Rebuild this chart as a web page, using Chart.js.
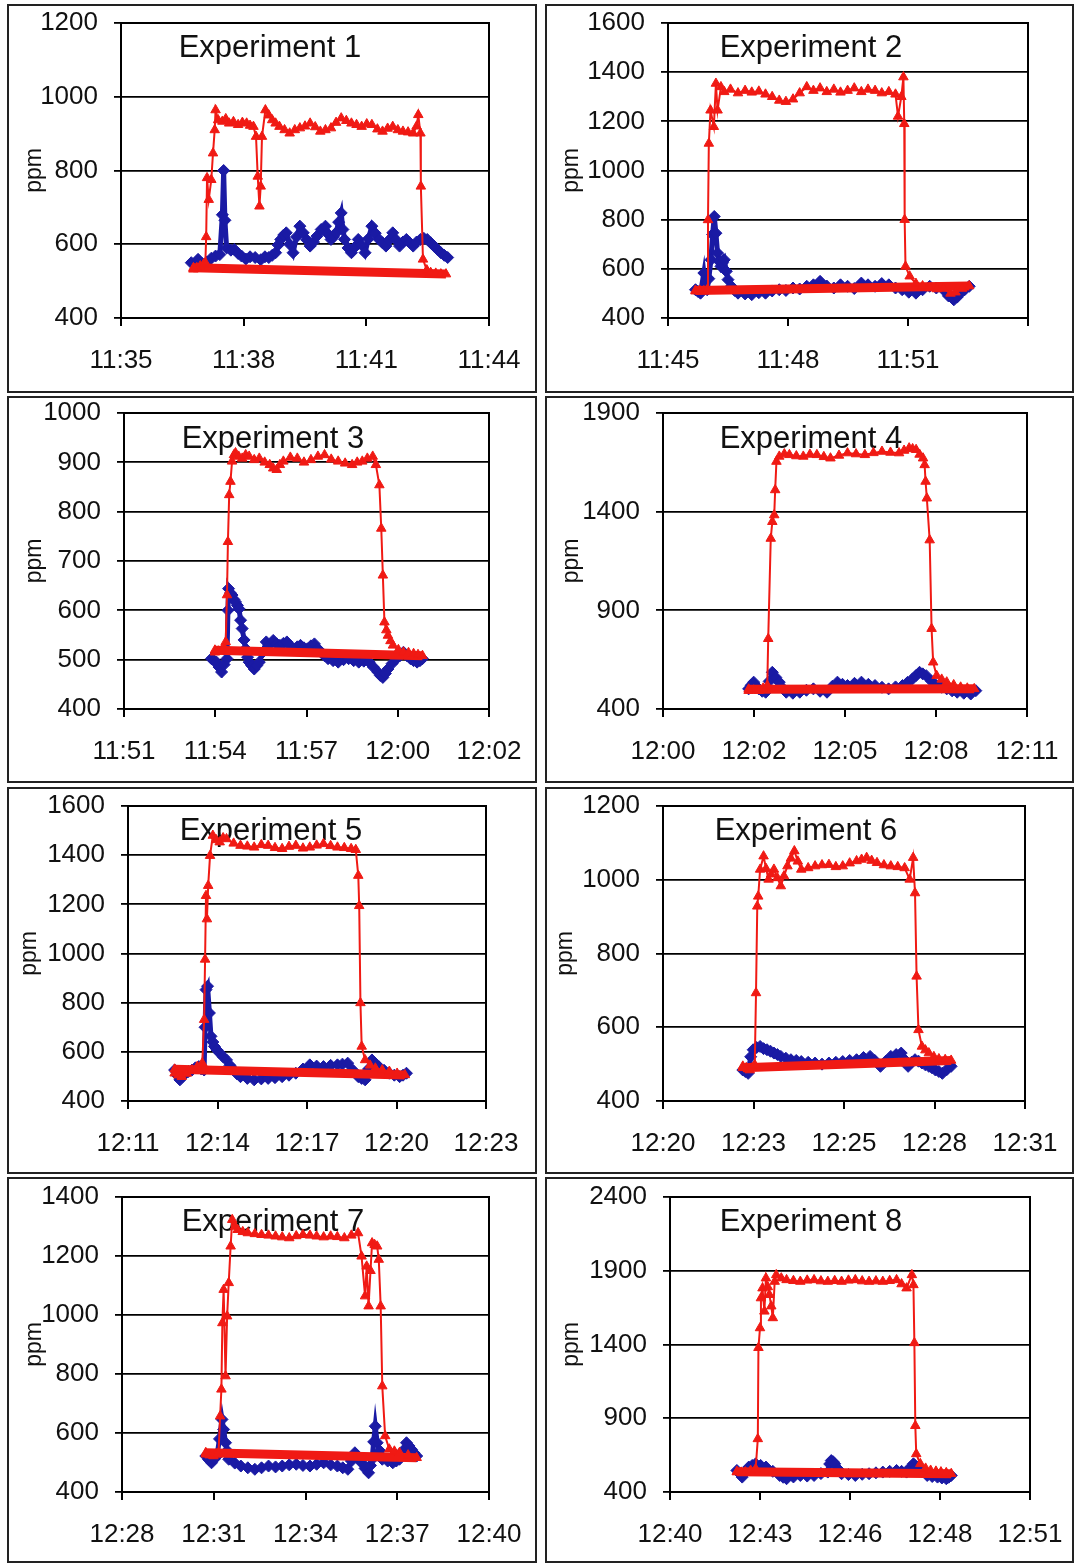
<!DOCTYPE html>
<html lang="en">
<head>
<meta charset="UTF-8">
<title>CO2 experiments 1-8</title>
<script src="https://cdn.jsdelivr.net/npm/chart.js"></script>
<style>
    body { margin: 0; background: #fff; font-family: "Liberation Sans", Arial, sans-serif; }
    #wrap { position: relative; width: 1077px; height: 1563px; overflow: hidden; }
    .panel { position: absolute; box-sizing: border-box; border: 2px solid #222; background: #fff; }
    .panel canvas { display: block; }
</style>
</head>
<body>
<div id="wrap"></div>

<script>
// time = minutes after midnight, value = ppm
const titles = ['Experiment 1', 'Experiment 2', 'Experiment 3', 'Experiment 4',
                'Experiment 5', 'Experiment 6', 'Experiment 7', 'Experiment 8'];

const tickLabels = [
    ['11:35', '11:38', '11:41', '11:44'],
    ['11:45', '11:48', '11:51', ''],
    ['11:51', '11:54', '11:57', '12:00', '12:02'],
    ['12:00', '12:02', '12:05', '12:08', '12:11'],
    ['12:11', '12:14', '12:17', '12:20', '12:23'],
    ['12:20', '12:23', '12:25', '12:28', '12:31'],
    ['12:28', '12:31', '12:34', '12:37', '12:40'],
    ['12:40', '12:43', '12:46', '12:48', '12:51']
];
const xStart = [695.52, 705.6, 711.36, 720, 731.52, 740.16, 748.8, 760.32];
const tickStep = 2.88; // 0.002 day
const yMin = [400, 400, 400, 400, 400, 400, 400, 400];
const yMax = [1200, 1600, 1000, 1900, 1600, 1200, 1400, 2400];
const yStep = [200, 200, 100, 500, 200, 200, 200, 500];

const exp1Blue = [[697.17,550],[697.25,545],[697.33,559],[697.42,548],[697.54,552],[697.64,562],[697.74,568],[697.84,572],[697.90,680],[697.93,800],[697.96,665],[698.00,590],[698.10,584],[698.18,586],[698.27,575],[698.35,568],[698.45,560],[698.55,566],[698.67,564],[698.80,558],[698.90,566],[698.99,564],[699.07,570],[699.15,577],[699.21,598],[699.27,613],[699.34,625],[699.40,631],[699.48,600],[699.56,577],[699.64,620],[699.72,649],[699.80,631],[699.88,612],[699.96,595],[700.04,606],[700.12,622],[700.22,640],[700.32,649],[700.38,628],[700.45,613],[700.51,620],[700.57,631],[700.63,660],[700.69,685],[700.73,640],[700.77,613],[700.85,590],[700.93,577],[701.01,592],[701.09,613],[701.17,598],[701.25,577],[701.33,615],[701.41,649],[701.49,630],[701.58,613],[701.66,604],[701.74,595],[701.82,612],[701.90,631],[701.98,612],[702.06,595],[702.14,606],[702.22,613],[702.30,604],[702.38,595],[702.46,606],[702.55,613],[702.63,616],[702.71,613],[702.79,604],[702.87,595],[702.95,586],[703.03,577],[703.11,570],[703.19,564]];
const exp1Red = [[697.22,532],[697.30,536],[697.38,541],[697.46,546],[697.50,550],[697.52,620],[697.54,780],[697.58,721],[697.64,775],[697.68,847],[697.72,910],[697.74,964],[697.80,937],[697.90,933],[697.98,940],[698.06,928],[698.16,932],[698.27,924],[698.37,930],[698.47,928],[698.55,922],[698.63,919],[698.69,892],[698.73,784],[698.77,703],[698.80,757],[698.83,892],[698.91,964],[698.99,950],[699.07,937],[699.15,928],[699.24,919],[699.36,910],[699.48,901],[699.60,910],[699.72,915],[699.84,920],[699.96,928],[700.08,918],[700.20,906],[700.32,910],[700.45,915],[700.57,930],[700.69,942],[700.81,935],[700.93,928],[701.05,924],[701.17,919],[701.29,926],[701.41,924],[701.54,912],[701.66,906],[701.78,914],[701.90,919],[702.02,910],[702.14,906],[702.26,904],[702.38,901],[702.46,920],[702.50,951],[702.55,901],[702.56,757],[702.61,559],[702.70,530],[702.79,523],[702.91,521],[703.03,519],[703.15,519],[697.22,536]];

const exp2Blue = [[706.26,515],[706.32,508],[706.38,501],[706.46,583],[706.50,520],[706.54,515],[706.58,560],[706.63,637],[706.67,740],[706.71,813],[706.75,745],[706.79,664],[706.83,630],[706.87,610],[706.91,625],[706.95,637],[707.00,590],[707.04,556],[707.12,529],[707.20,512],[707.28,501],[707.45,498],[707.61,495],[707.78,503],[707.94,501],[708.10,510],[708.27,515],[708.43,512],[708.60,522],[708.76,518],[708.93,529],[709.09,535],[709.25,549],[709.41,530],[709.58,522],[709.74,535],[709.91,529],[710.07,520],[710.24,542],[710.40,535],[710.57,529],[710.73,540],[710.90,535],[711.06,522],[711.22,515],[711.38,505],[711.55,501],[711.71,515],[711.88,529],[712.04,522],[712.21,515],[712.33,490],[712.46,474],[712.54,485],[712.62,501],[712.72,515],[712.83,529]];
const exp2Red = [[706.26,509],[706.36,512],[706.46,510],[706.54,515],[706.56,799],[706.58,1110],[706.62,1245],[706.70,1178],[706.75,1354],[706.79,1245],[706.87,1340],[706.95,1320],[707.10,1330],[707.28,1315],[707.45,1325],[707.61,1318],[707.78,1322],[707.94,1310],[708.10,1300],[708.27,1285],[708.43,1280],[708.60,1290],[708.76,1315],[708.93,1340],[709.09,1325],[709.25,1335],[709.41,1320],[709.58,1330],[709.74,1318],[709.91,1325],[710.07,1335],[710.24,1320],[710.40,1330],[710.57,1325],[710.73,1315],[710.90,1320],[711.06,1310],[711.12,1220],[711.20,1300],[711.25,1380],[711.27,1190],[711.28,800],[711.30,610],[711.40,570],[711.55,540],[711.71,530],[711.88,522],[712.05,518],[712.21,520],[712.38,500],[712.50,505],[712.66,520],[712.83,530],[706.26,512]];

const exp3Blue = [[714.12,502],[714.20,498],[714.28,495],[714.36,485],[714.44,475],[714.52,490],[714.61,502],[714.64,600],[714.66,644],[714.72,635],[714.77,631],[714.83,622],[714.88,617],[714.94,610],[714.99,603],[715.04,580],[715.09,563],[715.15,540],[715.20,522],[715.26,505],[715.31,495],[715.39,488],[715.47,481],[715.55,488],[715.63,495],[715.74,515],[715.85,536],[715.96,530],[716.07,539],[716.18,532],[716.28,529],[716.39,533],[716.50,536],[716.61,528],[716.72,522],[716.83,526],[716.93,529],[717.04,524],[717.15,522],[717.26,528],[717.37,532],[717.48,522],[717.58,515],[717.69,508],[717.80,502],[717.96,498],[718.12,495],[718.29,500],[718.45,502],[718.61,498],[718.77,495],[718.93,497],[719.10,495],[719.23,485],[719.37,475],[719.45,468],[719.53,464],[719.61,472],[719.69,481],[719.82,492],[719.96,502],[720.07,508],[720.18,515],[720.29,508],[720.40,502],[720.50,498],[720.61,495],[720.70,498],[720.78,502]];
const exp3Red = [[714.23,515],[714.34,517],[714.44,519],[714.52,524],[714.57,536],[714.61,631],[714.64,739],[714.68,834],[714.72,861],[714.77,902],[714.83,915],[714.88,919],[714.98,912],[715.09,908],[715.20,915],[715.31,912],[715.47,905],[715.63,908],[715.80,900],[715.96,895],[716.07,888],[716.18,885],[716.28,895],[716.39,902],[716.61,910],[716.83,908],[717.04,900],[717.26,905],[717.48,912],[717.69,915],[717.90,906],[718.12,902],[718.34,898],[718.56,895],[718.72,900],[718.88,902],[719.04,908],[719.21,912],[719.31,895],[719.42,854],[719.48,766],[719.53,671],[719.58,576],[719.64,560],[719.69,549],[719.77,538],[719.85,529],[720.02,520],[720.18,515],[720.34,514],[720.50,512],[720.64,510],[720.78,508],[714.23,519]];

const exp4Blue = [[722.71,502],[722.79,520],[722.87,536],[722.95,515],[723.03,502],[723.14,490],[723.25,485],[723.36,540],[723.46,586],[723.57,560],[723.68,536],[723.79,505],[723.90,485],[724.11,480],[724.33,485],[724.54,495],[724.76,502],[724.97,490],[725.19,485],[725.36,515],[725.52,536],[725.68,525],[725.84,519],[726.06,530],[726.28,536],[726.50,525],[726.71,519],[726.93,510],[727.14,502],[727.36,512],[727.58,519],[727.74,535],[727.90,553],[728.01,570],[728.12,586],[728.22,578],[728.33,569],[728.50,540],[728.66,519],[728.82,510],[728.98,502],[729.15,492],[729.31,485],[729.52,480],[729.74,476],[729.90,493]];
const exp4Red = [[722.71,493],[722.87,495],[723.03,493],[723.17,505],[723.30,519],[723.33,756],[723.41,1264],[723.46,1349],[723.52,1383],[723.55,1510],[723.59,1654],[723.68,1680],[723.84,1692],[724.00,1688],[724.22,1682],[724.44,1680],[724.65,1690],[724.87,1688],[725.09,1678],[725.30,1671],[725.57,1685],[725.84,1697],[726.11,1692],[726.39,1688],[726.66,1698],[726.93,1705],[727.20,1700],[727.47,1697],[727.63,1710],[727.79,1722],[727.90,1718],[728.01,1714],[728.12,1690],[728.23,1671],[728.28,1637],[728.31,1553],[728.35,1468],[728.44,1256],[728.50,807],[728.55,637],[728.66,569],[728.82,550],[728.98,536],[729.20,522],[729.42,510],[729.63,505],[729.85,502],[722.71,500]];

const exp5Blue = [[733.02,526],[733.10,505],[733.19,486],[733.28,500],[733.36,513],[733.47,520],[733.58,526],[733.69,535],[733.80,540],[733.88,530],[733.97,526],[734.00,700],[734.03,853],[734.08,867],[734.14,758],[734.19,663],[734.25,640],[734.30,622],[734.38,608],[734.47,595],[734.58,580],[734.69,567],[734.80,545],[734.92,526],[735.03,510],[735.14,499],[735.36,492],[735.58,486],[735.81,490],[736.03,492],[736.25,495],[736.48,499],[736.70,505],[736.92,513],[737.15,530],[737.37,547],[737.59,542],[737.81,540],[738.04,545],[738.26,547],[738.42,550],[738.59,554],[738.76,525],[738.93,499],[739.04,492],[739.15,486],[739.26,530],[739.37,567],[739.48,552],[739.59,540],[739.76,525],[739.93,513],[740.09,505],[740.26,499],[740.37,505],[740.48,513]];
const exp5Red = [[733.02,513],[733.14,505],[733.25,499],[733.41,512],[733.58,526],[733.75,540],[733.91,554],[733.97,731],[734.00,976],[734.03,1235],[734.06,1140],[734.10,1276],[734.16,1398],[734.25,1480],[734.36,1462],[734.47,1453],[734.58,1470],[734.69,1466],[734.92,1448],[735.14,1439],[735.36,1436],[735.58,1432],[735.81,1442],[736.03,1439],[736.25,1430],[736.48,1426],[736.70,1435],[736.92,1439],[737.15,1428],[737.37,1432],[737.59,1440],[737.81,1446],[738.04,1438],[738.26,1432],[738.48,1430],[738.70,1426],[738.85,1422],[738.93,1317],[738.96,1194],[739.00,799],[739.04,622],[739.15,567],[739.31,545],[739.48,533],[739.70,526],[739.93,520],[740.18,512],[740.43,506],[733.02,529]];

const exp6Blue = [[742.70,484],[742.78,480],[742.87,475],[742.95,520],[743.03,539],[743.14,545],[743.25,548],[743.36,542],[743.47,539],[743.58,535],[743.69,530],[743.80,526],[743.91,521],[744.07,516],[744.23,512],[744.40,510],[744.56,507],[744.78,505],[745.00,503],[745.22,500],[745.44,503],[745.66,505],[745.88,507],[746.10,510],[746.32,512],[746.54,518],[746.75,521],[746.90,510],[747.08,494],[747.25,508],[747.41,521],[747.58,526],[747.74,530],[747.85,512],[747.96,494],[748.07,505],[748.18,512],[748.29,508],[748.40,503],[748.51,498],[748.62,494],[748.72,490],[748.83,484],[748.94,480],[749.05,475],[749.19,485],[749.33,494]];
const exp6Red = [[742.70,494],[742.81,490],[742.92,484],[743.00,490],[743.08,498],[743.12,693],[743.16,928],[743.19,955],[743.25,1028],[743.36,1064],[743.44,1030],[743.52,1001],[743.60,1015],[743.69,1028],[743.80,1005],[743.91,983],[744.01,1010],[744.12,1037],[744.23,1058],[744.34,1078],[744.45,1050],[744.56,1028],[744.78,1032],[745.00,1037],[745.22,1040],[745.44,1041],[745.66,1035],[745.88,1037],[746.10,1045],[746.32,1051],[746.48,1055],[746.64,1060],[746.80,1052],[746.97,1046],[747.19,1040],[747.41,1037],[747.63,1035],[747.85,1032],[748.01,1001],[748.12,1060],[748.18,964],[748.23,738],[748.29,593],[748.40,548],[748.51,538],[748.62,530],[748.78,520],[748.94,514],[749.14,512],[749.33,510],[742.70,490]];

const exp7Blue = [[751.43,522],[751.52,510],[751.61,499],[751.70,512],[751.78,522],[751.86,580],[751.94,646],[751.99,612],[752.05,567],[752.10,540],[752.15,511],[752.34,498],[752.53,488],[752.75,482],[752.97,477],[753.18,482],[753.40,488],[753.62,485],[753.83,488],[754.05,492],[754.27,494],[754.48,490],[754.70,488],[754.91,494],[755.13,499],[755.35,492],[755.56,488],[755.73,482],[755.89,477],[756.00,505],[756.11,533],[756.22,515],[756.32,499],[756.43,480],[756.54,465],[756.60,490],[756.65,511],[756.70,570],[756.75,623],[756.81,567],[756.89,540],[756.97,511],[757.14,505],[757.30,499],[757.41,505],[757.51,511],[757.62,540],[757.73,567],[757.81,556],[757.89,544],[757.97,532],[758.05,522]];
const exp7Red = [[751.43,528],[751.55,525],[751.67,522],[751.75,528],[751.83,533],[751.88,657],[751.92,748],[751.95,973],[751.99,1086],[752.05,793],[752.10,996],[752.15,1109],[752.21,1233],[752.26,1323],[752.35,1300],[752.43,1289],[752.59,1282],[752.75,1278],[752.97,1275],[753.18,1272],[753.40,1270],[753.62,1267],[753.83,1264],[754.05,1261],[754.27,1268],[754.48,1272],[754.70,1270],[754.91,1267],[755.13,1264],[755.35,1267],[755.56,1265],[755.78,1261],[756.00,1270],[756.21,1278],[756.32,1199],[756.43,1064],[756.48,1165],[756.54,1030],[756.60,1150],[756.65,1244],[756.73,1238],[756.81,1233],[756.86,1188],[756.92,1030],[756.97,759],[757.06,590],[757.19,545],[757.35,538],[757.51,533],[757.78,525],[758.05,516],[751.43,533]];

const exp8Blue = [[762.46,546],[762.55,525],[762.63,501],[762.73,535],[762.84,569],[762.95,580],[763.06,591],[763.22,580],[763.39,569],[763.61,540],[763.83,512],[763.94,500],[764.05,490],[764.27,502],[764.49,512],[764.71,508],[764.93,512],[765.15,525],[765.37,535],[765.43,590],[765.48,613],[765.54,605],[765.59,591],[765.70,555],[765.81,524],[766.03,518],[766.25,512],[766.47,520],[766.69,524],[766.91,530],[767.13,535],[767.35,540],[767.57,546],[767.73,540],[767.89,535],[768.00,565],[768.11,591],[768.16,580],[768.22,569],[768.38,540],[768.55,512],[768.71,505],[768.88,501],[769.02,495],[769.16,490],[769.24,500],[769.32,512]];
const exp8Red = [[762.46,535],[762.60,533],[762.73,535],[762.90,545],[763.06,557],[763.13,760],[763.15,1378],[763.20,1512],[763.23,1715],[763.28,1782],[763.34,1625],[763.39,1850],[763.45,1790],[763.50,1737],[763.56,1660],[763.61,1580],[763.67,1827],[763.72,1872],[763.88,1850],[764.05,1838],[764.27,1832],[764.49,1827],[764.71,1835],[764.93,1838],[765.15,1830],[765.37,1827],[765.59,1832],[765.81,1827],[766.03,1835],[766.25,1838],[766.47,1830],[766.69,1827],[766.91,1830],[767.13,1827],[767.35,1832],[767.57,1838],[767.73,1810],[767.89,1782],[768.06,1872],[768.11,1804],[768.14,1411],[768.17,849],[768.20,658],[768.33,591],[768.50,560],[768.66,546],[768.83,540],[768.99,535],[769.16,530],[769.32,524],[762.46,538]];

const blueSeries = [exp1Blue, exp2Blue, exp3Blue, exp4Blue, exp5Blue, exp6Blue, exp7Blue, exp8Blue];
const redSeries = [exp1Red, exp2Red, exp3Red, exp4Red, exp5Red, exp6Red, exp7Red, exp8Red];

// page layout: frame box, plot area, "ppm" x, title centre
const layout = [
    { f: [7, 4, 530, 389],     plot: [121, 23, 489, 318],     ppmX: 35,  tx: 270, ty: 48 },
    { f: [545, 4, 529, 389],   plot: [668, 23, 1028, 318],    ppmX: 572, tx: 811, ty: 48 },
    { f: [7, 396, 530, 387],   plot: [124, 413, 489, 709],    ppmX: 35,  tx: 273, ty: 439 },
    { f: [545, 396, 529, 387], plot: [663, 413, 1027, 709],   ppmX: 572, tx: 811, ty: 439 },
    { f: [7, 787, 530, 387],   plot: [128, 806, 486, 1101],   ppmX: 30,  tx: 271, ty: 831 },
    { f: [545, 787, 529, 387], plot: [663, 806, 1025, 1101],  ppmX: 566, tx: 806, ty: 831 },
    { f: [7, 1177, 530, 386],  plot: [122, 1197, 489, 1492],  ppmX: 35,  tx: 273, ty: 1222 },
    { f: [545, 1177, 529, 386],plot: [670, 1197, 1030, 1492], ppmX: 572, tx: 811, ty: 1222 }
];

const FONT = '"Liberation Sans", Arial, sans-serif';
Chart.defaults.font.family = FONT;
Chart.defaults.color = '#111';

// plot frame + experiment title, drawn under the data
const panelDecor = {
    id: 'panelDecor',
    beforeDatasetsDraw(chart, args, opts) {
        const { ctx, chartArea } = chart;
        ctx.save();
        ctx.font = '31px ' + FONT;
        ctx.fillStyle = '#111';
        ctx.textAlign = 'center';
        ctx.textBaseline = 'middle';
        ctx.fillText(opts.text, opts.x, opts.y);
        ctx.strokeStyle = '#000';
        ctx.lineWidth = 2;
        ctx.strokeRect(chartArea.left, chartArea.top, chartArea.width, chartArea.height);
        ctx.restore();
    }
};

const wrap = document.getElementById('wrap');

for (let i = 0; i < 8; i++) {
    const L = layout[i];
    const [fx, fy, fw, fh] = L.f;
    const [pl, pt, pr, pb] = L.plot;

    const box = document.createElement('div');
    box.className = 'panel';
    box.style.left = fx + 'px';
    box.style.top = fy + 'px';
    box.style.width = fw + 'px';
    box.style.height = fh + 'px';
    const canvas = document.createElement('canvas');
    const cw = fw - 4, ch = fh - 4;
    canvas.width = cw;
    canvas.height = ch;
    box.appendChild(canvas);
    wrap.appendChild(box);

    const cl = fx + 2, ct = fy + 2;
    const yAxisW = pl - cl;
    const xAxisH = (ct + ch) - pb;
    const labels = tickLabels[i];
    const x0 = xStart[i];
    const x1 = x0 + (labels.length - 1) * tickStep;

    new Chart(canvas.getContext('2d'), {
        type: 'line',
        data: {
            datasets: [{
                label: 'outlet',
                data: redSeries[i].map(([x, y]) => ({ x, y })),
                borderColor: '#f01a14',
                backgroundColor: '#f01a14',
                borderWidth: 2,
                pointStyle: 'triangle',
                pointRadius: 5.5,
                pointBorderWidth: 1,
                segment: {
                    borderWidth: c => c.p1.parsed.x < c.p0.parsed.x ? 9 : 2
                },
                order: 0
            }, {
                label: 'room',
                data: blueSeries[i].map(([x, y]) => ({ x, y })),
                borderColor: '#1a1aa4',
                backgroundColor: '#1a1aa4',
                borderWidth: 5,
                pointStyle: 'rectRot',
                pointRadius: 6,
                pointBorderWidth: 1,
                order: 1
            }]
        },
        options: {
            responsive: false,
            animation: false,
            devicePixelRatio: 1,
            layout: { padding: { left: 0, top: pt - ct, right: (cl + cw) - pr, bottom: 0 } },
            plugins: {
                legend: { display: false },
                tooltip: { enabled: false },
                panelDecor: { text: titles[i], x: L.tx - cl, y: L.ty - ct }
            },
            scales: {
                x: {
                    type: 'linear',
                    min: x0,
                    max: x1,
                    afterBuildTicks: scale => {
                        scale.ticks = labels.map((_, k) => ({ value: x0 + k * tickStep }));
                    },
                    afterFit: scale => {
                        scale.height = xAxisH;
                        scale.paddingLeft = 0;
                        scale.paddingRight = 0;
                    },
                    ticks: {
                        callback: (v, idx) => labels[idx],
                        autoSkip: false,
                        maxRotation: 0,
                        padding: 19,
                        font: { size: 26 },
                        color: '#111'
                    },
                    grid: {
                        drawOnChartArea: false,
                        drawTicks: true,
                        tickLength: 8,
                        color: '#000',
                        lineWidth: 2
                    },
                    border: { display: true, color: '#000', width: 2 }
                },
                y: {
                    min: yMin[i],
                    max: yMax[i],
                    afterFit: scale => {
                        scale.width = yAxisW;
                        scale.paddingTop = 0;
                        scale.paddingBottom = 0;
                    },
                    ticks: {
                        stepSize: yStep[i],
                        padding: 16,
                        font: { size: 26 },
                        color: '#111',
                        callback: v => String(v)
                    },
                    grid: {
                        color: '#000',
                        lineWidth: 1.8,
                        drawTicks: true,
                        tickLength: 7
                    },
                    border: { display: true, color: '#000', width: 2 },
                    title: {
                        display: true,
                        text: 'ppm',
                        font: { size: 23 },
                        color: '#111',
                        padding: { top: Math.max(0, L.ppmX - cl - 13.8), bottom: 0 }
                    }
                }
            }
        },
        plugins: [panelDecor]
    });
}
</script>
</body>
</html>
